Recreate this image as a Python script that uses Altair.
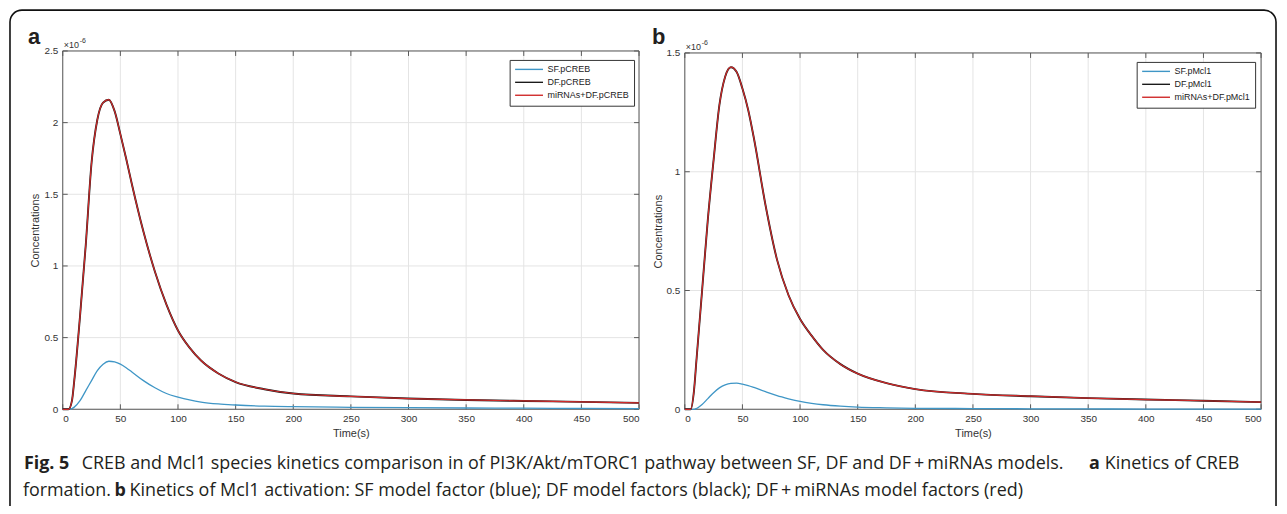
import altair as alt
import pandas as pd

# ---------------- data (concentrations in units of 1e-6) ----------------
time_s = [0, 5, 8, 10, 15, 20, 25, 30, 35, 40, 45, 50, 55, 60, 70, 80, 90, 100,
          110, 120, 135, 150, 175, 200, 250, 300, 350, 400, 450, 500]

a_sf = [0, 0, 0.005, 0.015, 0.06, 0.13, 0.2, 0.27, 0.315, 0.335, 0.33, 0.315, 0.29, 0.26,
        0.2, 0.15, 0.11, 0.085, 0.065, 0.05, 0.037, 0.03, 0.022, 0.018, 0.014, 0.011,
        0.009, 0.008, 0.006, 0.005]
a_df = [0, 0, 0.06, 0.2, 0.65, 1.15, 1.72, 2.02, 2.14, 2.16, 2.08, 1.92, 1.75, 1.57,
        1.24, 0.96, 0.73, 0.55, 0.43, 0.34, 0.25, 0.19, 0.14, 0.11, 0.09, 0.075,
        0.065, 0.058, 0.052, 0.045]
a_mi = [0, 0, 0.06, 0.2, 0.65, 1.15, 1.72, 2.02, 2.14, 2.16, 2.08, 1.92, 1.75, 1.57,
        1.24, 0.96, 0.73, 0.55, 0.43, 0.34, 0.25, 0.19, 0.14, 0.11, 0.09, 0.075,
        0.065, 0.058, 0.052, 0.045]

b_sf = [0, 0, 0, 0.003, 0.02, 0.045, 0.07, 0.09, 0.103, 0.109, 0.11, 0.106, 0.1, 0.092,
        0.074, 0.057, 0.044, 0.033, 0.025, 0.019, 0.013, 0.009, 0.006, 0.004, 0.003,
        0.002, 0.0015, 0.001, 0.001, 0.001]
b_df = [0, 0, 0.08, 0.2, 0.5, 0.8, 1.05, 1.28, 1.4, 1.44, 1.42, 1.35, 1.26, 1.14,
        0.86, 0.63, 0.48, 0.38, 0.31, 0.25, 0.19, 0.15, 0.11, 0.085, 0.065, 0.055,
        0.047, 0.041, 0.036, 0.03]
b_mi = [0, 0, 0.08, 0.2, 0.5, 0.8, 1.05, 1.28, 1.4, 1.44, 1.42, 1.35, 1.26, 1.14,
        0.86, 0.63, 0.48, 0.38, 0.31, 0.25, 0.19, 0.15, 0.11, 0.085, 0.065, 0.055,
        0.047, 0.041, 0.036, 0.03]

a_names = ["SF.pCREB", "DF.pCREB", "miRNAs+DF.pCREB"]
b_names = ["SF.pMcl1", "DF.pMcl1", "miRNAs+DF.pMcl1"]
line_colors = ["#3f96c6", "#1a1a1a", "#d02a2a"]
line_widths = [1.3, 1.9, 1.2]

x_ticks = [0, 50, 100, 150, 200, 250, 300, 350, 400, 450, 500]
a_y_ticks = [0, 0.5, 1, 1.5, 2, 2.5]
b_y_ticks = [0, 0.5, 1, 1.5]

caption_line1 = ["Fig. 5",
                 "CREB and Mcl1 species kinetics comparison in of PI3K/Akt/mTORC1 pathway between SF, DF and DF\u2009+\u2009miRNAs models.",
                 "a", "Kinetics of CREB"]
caption_line2 = ["formation.", "b",
                 "Kinetics of Mcl1 activation: SF model factor (blue); DF model factors (black); DF\u2009+\u2009miRNAs model factors (red)"]

# ---------------- styling ----------------
W, H = 1277, 498
AX_FONT = "Liberation Sans"
CAP_FONT = "Open Sans"
BOX_C = "#5a5a5a"
GRID_C = "#e4e4e4"
LBL_C = "#333333"
ONE = alt.Data(values=[{}])


def panel(names, series, y_ticks, x_range, y_range, leg_xy):
    ymax = y_ticks[-1]
    sx = alt.Scale(domain=[0, 500], range=x_range, nice=False, zero=False)
    sy = alt.Scale(domain=[0, ymax], range=y_range, nice=False, zero=False)
    ax = alt.Axis(orient="bottom", offset=y_range[0] - H, values=x_ticks, format="d",
                  title="Time(s)", domain=False, ticks=False, tickSize=0, grid=False,
                  labelPadding=4, labelFont=AX_FONT, labelFontSize=10, labelColor=LBL_C,
                  titleFont=AX_FONT, titleFontSize=11, titleFontWeight="normal",
                  titleColor=LBL_C, titlePadding=4, minExtent=0)
    ay = alt.Axis(orient="left", offset=-x_range[0], values=y_ticks, format="~g",
                  title="Concentrations", domain=False, ticks=False, tickSize=0, grid=False,
                  labelPadding=5, labelFont=AX_FONT, labelFontSize=10, labelColor=LBL_C,
                  titleFont=AX_FONT, titleFontSize=11, titleFontWeight="normal",
                  titleColor=LBL_C, titlePadding=3, minExtent=0)

    xt = alt.Chart(pd.DataFrame({"t": x_ticks}))
    yt = alt.Chart(pd.DataFrame({"v": y_ticks}))
    X = lambda: alt.X("t:Q", scale=sx, axis=ax)
    Y = lambda: alt.Y("v:Q", scale=sy, axis=ay)

    grid_x = xt.mark_rule(color=GRID_C, strokeWidth=1).encode(
        x=X(), y=alt.YDatum(0, scale=sy, axis=ay), y2=alt.Y2Datum(ymax))
    grid_y = yt.mark_rule(color=GRID_C, strokeWidth=1).encode(
        y=Y(), x=alt.XDatum(0, scale=sx, axis=ax), x2=alt.X2Datum(500))
    tick_b = xt.mark_rule(color=BOX_C, y2Offset=-5).encode(
        x=X(), y=alt.YDatum(0, scale=sy, axis=ay), y2=alt.Y2Datum(0))
    tick_t = xt.mark_rule(color=BOX_C, y2Offset=5).encode(
        x=X(), y=alt.YDatum(ymax, scale=sy, axis=ay), y2=alt.Y2Datum(ymax))
    tick_l = yt.mark_rule(color=BOX_C, x2Offset=5).encode(
        y=Y(), x=alt.XDatum(0, scale=sx, axis=ax), x2=alt.X2Datum(0))
    tick_r = yt.mark_rule(color=BOX_C, x2Offset=-5).encode(
        y=Y(), x=alt.XDatum(500, scale=sx, axis=ax), x2=alt.X2Datum(500))
    box = alt.Chart(ONE).mark_rect(fillOpacity=0, stroke=BOX_C, strokeWidth=1).encode(
        x=alt.XDatum(0, scale=sx, axis=ax), x2=alt.X2Datum(500),
        y=alt.YDatum(0, scale=sy, axis=ay), y2=alt.Y2Datum(ymax))

    rows = []
    for name, vals in zip(names, series):
        for t, v in zip(time_s, vals):
            rows.append({"t": t, "v": v, "series": name})
    df = pd.DataFrame(rows)

    leg = alt.Legend(orient="none", legendX=leg_xy[0], legendY=leg_xy[1], title=None,
                     symbolType="M-4,0H4", symbolSize=49, symbolStrokeWidth=1.4,
                     symbolOffset=10, labelOffset=14, labelFont=AX_FONT,
                     labelFontSize=9, labelColor="#222222", rowPadding=3, padding=5,
                     strokeColor="#333333", fillColor="white", labelLimit=300)
    col = alt.Color("series:N", scale=alt.Scale(domain=names, range=line_colors), legend=leg)
    lines = []
    for name, w in zip(names, line_widths):
        lines.append(alt.Chart(df).transform_filter(alt.datum.series == name)
                     .mark_line(strokeWidth=w, interpolate="monotone")
                     .encode(x=X(), y=Y(), color=col))

    exp1 = alt.Chart(ONE).mark_text(text="\u00d710", align="left", baseline="alphabetic",
                                    dx=1, dy=-3, font=AX_FONT, fontSize=9, color=LBL_C).encode(
        x=alt.XDatum(0, scale=sx, axis=ax), y=alt.YDatum(ymax, scale=sy, axis=ay))
    exp2 = alt.Chart(ONE).mark_text(text="-6", align="left", baseline="alphabetic",
                                    dx=17, dy=-8, font=AX_FONT, fontSize=7, color=LBL_C).encode(
        x=alt.XDatum(0, scale=sx, axis=ax), y=alt.YDatum(ymax, scale=sy, axis=ay))

    return alt.layer(grid_x, grid_y, box, tick_b, tick_t, tick_l, tick_r,
                     *lines, exp1, exp2)


panel_a = panel(a_names, [a_sf, a_df, a_mi], a_y_ticks, [55, 634], [402, 42], (504, 51))
panel_b = panel(b_names, [b_sf, b_df, b_mi], b_y_ticks, [680, 1259], [402, 44], (1134, 53))

border = alt.Chart(ONE).mark_rect(fillOpacity=0, stroke="#111111", strokeWidth=1.6,
                                  cornerRadius=12).encode(
    x=alt.value(2), x2=alt.value(1274), y=alt.value(1), y2=alt.value(530))


def txt(s, x, y, bold=False, size=18, font=CAP_FONT):
    return alt.Chart(ONE).mark_text(align="left", baseline="alphabetic", font=font,
                                    fontSize=size, fontWeight="bold" if bold else "normal",
                                    color="#231f20").encode(
        x=alt.value(x), y=alt.value(y), text=alt.value(s))


cap = [
    txt(caption_line1[0], 16, 462, True),
    txt(caption_line1[1], 74, 462),
    txt(caption_line1[2], 1086, 462, True),
    txt(caption_line1[3], 1102, 462),
    txt(caption_line2[0], 15, 489),
    txt(caption_line2[1], 107, 489, True),
    txt(caption_line2[2], 122, 489),
]
letter_a = txt("a", 20, 35, True, 22, AX_FONT)
letter_b = txt("b", 647, 35, True, 22, AX_FONT)

chart = alt.layer(border, *cap, letter_a, letter_b, panel_a, panel_b).resolve_scale(
    x="independent", y="independent", color="independent"
).properties(
    width=W, height=H, padding=0, autosize=alt.AutoSizeParams(type="none")
).configure_view(stroke=None)

chart.save("out.html", embed_options={"renderer": "svg", "actions": False})
